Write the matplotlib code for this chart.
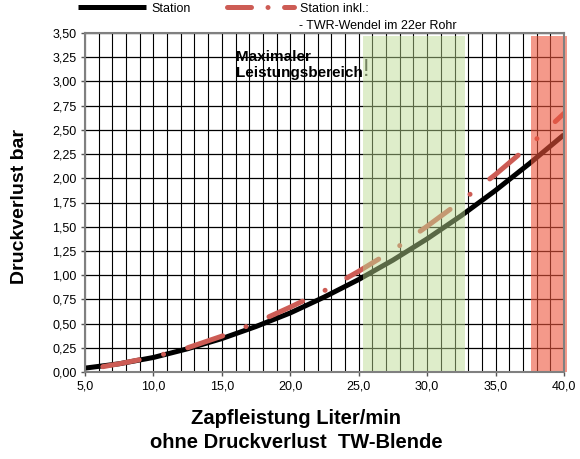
import matplotlib
matplotlib.use("Agg")
import matplotlib.pyplot as plt
from matplotlib.lines import Line2D
from matplotlib.ticker import MultipleLocator

plt.rcParams['font.family'] = ['Liberation Sans', 'DejaVu Sans']

#-----------------------------
# DATA
#-----------------------------
# Station (black)
flow_station = [5.0, 7.5, 10.0, 12.5, 15.0, 17.5, 20.0, 22.5, 25.0, 27.5, 30.0, 32.5, 35.0, 37.5, 40.0]
dp_station = [0.04, 0.085, 0.15, 0.24, 0.345, 0.47, 0.61, 0.775, 0.955, 1.155, 1.375, 1.615, 1.875, 2.155, 2.45]

# Station incl. TWR-Wendel (red dash-dot)
flow_twr = [6.3, 7.5, 10.0, 12.5, 15.0, 17.5, 20.0, 22.5, 25.0, 27.5, 30.0, 32.5, 35.0, 37.5, 40.0]
dp_twr = [0.055, 0.085, 0.155, 0.25, 0.37, 0.51, 0.67, 0.84, 1.04, 1.255, 1.505, 1.765, 2.04, 2.34, 2.67]

# highlighted ranges
green_range = (25.3, 32.8)
red_range = (37.6, 40.2)

x_ticks = [5, 10, 15, 20, 25, 30, 35, 40]
x_labels = ["5,0", "10,0", "15,0", "20,0", "25,0", "30,0", "35,0", "40,0"]
y_ticks = [0, 0.25, 0.5, 0.75, 1.0, 1.25, 1.5, 1.75, 2.0, 2.25, 2.5, 2.75, 3.0, 3.25, 3.5]
y_labels = ["0,00", "0,25", "0,50", "0,75", "1,00", "1,25", "1,50", "1,75",
            "2,00", "2,25", "2,50", "2,75", "3,00", "3,25", "3,50"]

RED = "#cd5c55"

#-------------------------
# FIGURE
#-------------------------
fig = plt.figure(figsize=(5.8, 4.59), dpi=100)
ax = fig.add_axes([85/580, 1-372/459, (564-85)/580, (372-33)/459])

ax.set_xlim(5, 40)
ax.set_ylim(0, 3.5)

# grid
ax.xaxis.set_minor_locator(MultipleLocator(1))
ax.grid(which='both', axis='x', color='black', lw=0.8, zorder=1)
ax.grid(which='major', axis='y', color='black', lw=0.9, zorder=1)
ax.set_axisbelow(True)

# curves
ax.plot(flow_station, dp_station, color='black', lw=3.6, solid_capstyle='butt', zorder=3)
ax.plot(flow_twr, dp_twr, color=RED, lw=3.6, linestyle=(0, (7.4, 5.0, 0.01, 5.0)),
        dash_capstyle='round', zorder=3)

# bands on top
ax.axvspan(green_range[0], green_range[1], ymin=0, ymax=3.47/3.5,
           color='#bbdb92', alpha=0.48, lw=0, zorder=4)
ax.axvspan(red_range[0], red_range[1], ymin=0, ymax=3.47/3.5,
           color='#ed553c', alpha=0.6, lw=0, zorder=4, clip_on=False)

# ticks
ax.set_xticks(x_ticks)
ax.set_xticklabels(x_labels, fontsize=9)
ax.set_yticks(y_ticks)
ax.set_yticklabels(y_labels, fontsize=9)
ax.tick_params(axis='both', which='major', direction='out', length=3, width=1, color='#555555', pad=3)
ax.tick_params(axis='x', which='minor', length=0)

for sp in ax.spines.values():
    sp.set_color('#808080')
    sp.set_linewidth(1.5)
    sp.set_zorder(5)

# annotation
ax.text(236/580, 1-65/459, "Maximaler\nLeistungsbereich", transform=fig.transFigure,
        fontsize=11, fontweight='bold', va='center', ha='left', linespacing=1.2, zorder=2)
ax.text(366/580, 1-70/459, "!", transform=fig.transFigure, fontsize=17,
        color='#333333', va='center', ha='center', zorder=3.5)

# axis titles
fig.text(20/580, 1-206/459, "Druckverlust bar", rotation=90, fontsize=14,
         fontweight='bold', ha='center', va='center')
fig.text(296/580, 1-418/459, "Zapfleistung Liter/min", fontsize=14.5,
         fontweight='bold', ha='center', va='center')
fig.text(296/580, 1-443/459, "ohne Druckverlust  TW-Blende", fontsize=14.5,
         fontweight='bold', ha='center', va='center')

# legend
h1 = Line2D([], [], color='black', lw=3.6, solid_capstyle='butt')
h2 = Line2D([], [], color=RED, lw=3.6, linestyle=(0, (4.8, 3.3, 0.01, 3.3)), dash_capstyle='round')
fig.legend([h1, h2], ["Station", "Station inkl.:"], ncol=2, frameon=False, fontsize=9,
           loc='center left', bbox_to_anchor=(78/580, 1-8.5/459), borderpad=0,
           borderaxespad=0, handlelength=5.4, handletextpad=0.45, columnspacing=2.9)
fig.text(299/580, 1-26/459, "- TWR-Wendel im 22er Rohr", fontsize=9, ha='left', va='center')

plt.savefig('out.png', dpi=100)
plt.close()
